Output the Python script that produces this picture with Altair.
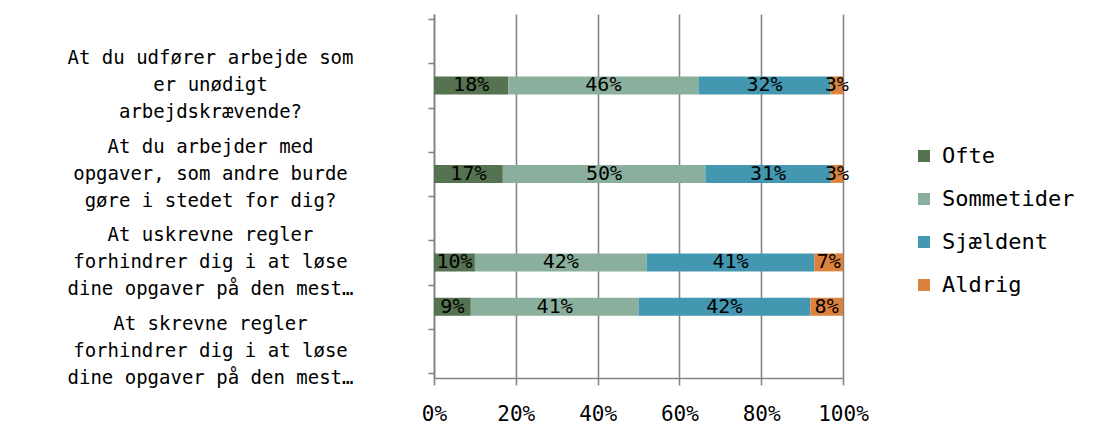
import json
import altair as alt
import pandas as pd

# Survey questions (line breaks as shown on the axis)
questions = [
    ["At du udfører arbejde som", "er unødigt", "arbejdskrævende?"],
    ["At du arbejder med", "opgaver, som andre burde", "gøre i stedet for dig?"],
    ["At uskrevne regler", "forhindrer dig i at løse", "dine opgaver på den mest…"],
    ["At skrevne regler", "forhindrer dig i at løse", "dine opgaver på den mest…"],
]
question_ids = ["Q1", "Q2", "Q3", "Q4"]

# Row slot on the category axis where each question's bar sits
bar_rows = [1.5, 3.5, 5.5, 6.5]
# Tick at which each question label is anchored (shown half a slot lower)
label_ticks = [1, 3, 5, 7]

answers = ["Ofte", "Sommetider", "Sjældent", "Aldrig"]
colors = ["#557350", "#8BAF9D", "#4397B0", "#DC823C"]

# Percentage shares per question, in answer order
ofte = [18, 17, 10, 9]
sommetider = [46, 50, 42, 41]
sjaeldent = [32, 31, 41, 42]
aldrig = [3, 3, 7, 8]

series = [ofte, sommetider, sjaeldent, aldrig]
rows = []
for qi, qid in enumerate(question_ids):
    for ai, ans in enumerate(answers):
        rows.append({"question": qid, "row": bar_rows[qi], "answer": ans,
                     "order": ai, "value": series[ai][qi]})
df = pd.DataFrame(rows)

# Multi-line axis labels for the question ticks
expr = "''"
for tick, lines in reversed(list(zip(label_ticks, questions))):
    expr = f"datum.value === {tick} ? {json.dumps(lines, ensure_ascii=False)} : ({expr})"

FONT = "DejaVu Sans Mono"
GRID = "#858585"

base = alt.Chart(df).transform_stack(
    stack="value", groupby=["question"], as_=["x0", "x1"], offset="normalize",
    sort=[alt.SortField("order", "ascending")],
).transform_calculate(
    mid="(datum.x0 + datum.x1) / 2",
    lbl="datum.value + '%'",
)

x_scale = alt.Scale(domain=[0, 1], nice=False, zero=True)
y_scale = alt.Scale(domain=[0, 8], reverse=True, nice=False, zero=False)

bars = base.mark_bar(orient="horizontal", size=18).encode(
    x=alt.X("x0:Q", scale=x_scale, title=None,
            axis=alt.Axis(values=[0, 0.2, 0.4, 0.6, 0.8, 1.0], format=".0%",
                          grid=True, gridColor=GRID, gridWidth=1.6,
                          domain=True, domainColor=GRID, domainWidth=1.6,
                          ticks=True, tickSize=7, tickColor=GRID, tickWidth=1.6,
                          labelFlush=False, labelFont=FONT, labelFontSize=21,
                          labelColor="#000000", labelPadding=18)),
    x2="x1:Q",
    y=alt.Y("row:Q", scale=y_scale, title=None,
            axis=alt.Axis(values=list(range(9)), labelExpr=expr, grid=False,
                          domain=True, domainColor=GRID, domainWidth=1.6,
                          ticks=True, tickSize=6, tickColor=GRID, tickWidth=1.6,
                          labelOffset=-5.5, labelAlign="center", labelBaseline="middle",
                          labelPadding=218, labelLimit=0, labelFont=FONT,
                          labelFontSize=19, labelLineHeight=27, labelColor="#000000")),
    color=alt.Color("answer:N", sort=answers,
                    scale=alt.Scale(domain=answers, range=colors),
                    legend=alt.Legend(title=None, orient="none", legendX=479, legendY=131,
                                      symbolType="square", symbolSize=144,
                                      symbolStrokeWidth=0, labelFont=FONT,
                                      labelFontSize=22, labelColor="#000000",
                                      rowPadding=21, labelOffset=7)),
)

labels = base.mark_text(font=FONT, fontSize=20, color="#000000").encode(
    x=alt.X("mid:Q", scale=x_scale),
    y=alt.Y("row:Q", scale=y_scale),
    text="lbl:N",
)

chart = alt.layer(bars, labels).properties(
    width=409,
    height=364,
    background="#ffffff",
    autosize=alt.AutoSizeParams(type="none"),
    padding={"left": 434, "top": 14, "right": 252, "bottom": 48},
).configure_view(stroke=None)

chart.save("out.html", embed_options={"renderer": "svg", "actions": False})
